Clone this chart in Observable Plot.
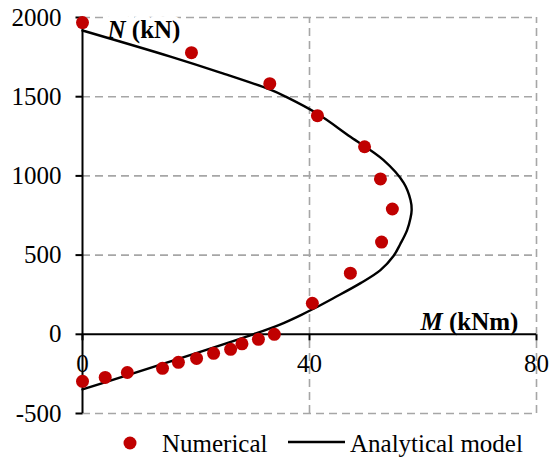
<!DOCTYPE html>
<html>
<head>
<meta charset="utf-8">
<script src="https://cdn.jsdelivr.net/npm/d3@7"></script>
<script src="https://cdn.jsdelivr.net/npm/@observablehq/plot@0.6"></script>
<style>
  html, body { margin: 0; padding: 0; background: #fff; }
  #chart svg { display: block; }
  #chart svg, #chart svg text { font-family: "Liberation Serif", "Times New Roman", Times, serif; }
</style>
</head>
<body>
<div id="chart"></div>
<script>
// ---- data ----
const xTicks = [0, 40, 80];
const yTicks = [-500, 0, 500, 1000, 1500, 2000];
const xLabel = "M (kNm)";
const yLabel = "N (kN)";
const seriesNames = ["Numerical", "Analytical model"];

// Numerical results (M in kNm, N in kN)
const numM = [0, 4.0, 7.9, 14.1, 16.9, 20.1, 23.1, 26.1, 28.1, 31.0, 33.8, 40.5, 47.2, 52.7, 54.6, 52.5, 49.7, 41.4, 33.0, 19.2, 0];
const numN = [-297, -272, -241, -215, -177, -152, -120, -95, -60, -32, 0, 196, 386, 582, 791, 981, 1184, 1380, 1582, 1778, 1968];

// Analytical model interaction curve
const anaM = [0, 30.1, 34.9, 38.4, 40.7, 44.2, 49.0, 52.5, 54.8, 56.0, 57.2, 57.8, 58.0, 57.8, 56.6, 53.0, 47.2, 41.4, 35.8, 33.1, 24.3, 15.5, 0];
const anaN = [-348, 0, 63, 120, 161, 228, 323, 405, 494, 570, 658, 734, 785, 848, 956, 1101, 1247, 1392, 1500, 1544, 1652, 1753, 1918];

const numerical = numM.map((m, i) => ({M: m, N: numN[i]}));
const analytical = anaM.map((m, i) => ({M: m, N: anaN[i]}));

const red = "#c00000";
const grid = "#a6a6a6";
const font = '"Liberation Serif", "Times New Roman", Times, serif';
const xDom = [xTicks[0], xTicks[xTicks.length - 1]];
const yDom = [yTicks[0], yTicks[yTicks.length - 1]];

const tickDown = {draw(ctx) { ctx.moveTo(0, 0); ctx.lineTo(0, 6); }};
const tickLeft = {draw(ctx) { ctx.moveTo(0, 0); ctx.lineTo(-7, 0); }};

const plot = Plot.plot({
  width: 549,
  height: 420,
  marginLeft: 82,
  marginRight: 13,
  marginTop: 17,
  marginBottom: 7,
  x: {domain: xDom, axis: null},
  y: {domain: yDom, axis: null},
  style: {fontFamily: font, fontSize: "25px", background: "#fff", color: "#000", overflow: "visible"},
  marks: [
    // dashed grid
    Plot.ruleY(yTicks.filter(d => d !== 0), {y: d => d, x1: xDom[0], x2: xDom[1], stroke: grid, strokeWidth: 1.6, strokeDasharray: "8,5"}),
    Plot.ruleX(xTicks.filter(d => d !== 0), {x: d => d, y1: yDom[0], y2: yDom[1], stroke: grid, strokeWidth: 1.6, strokeDasharray: "8,5"}),
    // axes lines
    Plot.ruleY([0], {x1: xDom[0], x2: xDom[1], stroke: "#000", strokeWidth: 2}),
    Plot.ruleX([0], {y1: yDom[0], y2: yDom[1], stroke: "#000", strokeWidth: 2}),
    // ticks
    Plot.dot(xTicks, {x: d => d, y: 0, symbol: tickDown, stroke: "#000", strokeWidth: 2, fill: "none"}),
    Plot.dot(yTicks, {x: xDom[0], y: d => d, symbol: tickLeft, stroke: "#000", strokeWidth: 2, fill: "none"}),
    // tick labels
    Plot.text(yTicks, {x: xDom[0], y: d => d, text: d => String(d), textAnchor: "end", dx: -21, fill: "#000", fontFamily: font}),
    Plot.text(xTicks, {x: d => d, y: 0, text: d => String(d), dy: 30, fill: "#000", fontFamily: font}),
    // axis titles
    Plot.text([yLabel], {frameAnchor: "top-left", dx: 25, dy: 3, textAnchor: "start", fontWeight: "bold", fontFamily: font, fill: "#000", stroke: "#fff", strokeWidth: 10, paintOrder: "stroke"}),
    Plot.text([xLabel], {frameAnchor: "top-left", dx: 338, dy: 295, textAnchor: "start", fontWeight: "bold", fontFamily: font, fill: "#000"}),
    // analytical curve
    Plot.line(analytical, {x: "M", y: "N", curve: "catmull-rom", stroke: "#000", strokeWidth: 2.4}),
    // numerical points
    Plot.dot(numerical, {x: "M", y: "N", r: 6.5, fill: red, stroke: "none"})
  ]
});

// italicize the variable letter in each axis title
d3.select(plot).selectAll("text").each(function() {
  const t = d3.select(this);
  const s = t.text();
  if (s === yLabel || s === xLabel) {
    const first = s.split(" ")[0];
    const rest = s.slice(first.length);
    t.text(null);
    t.append("tspan").attr("font-style", "italic").text(first);
    t.append("tspan").text(rest);
  }
});

document.getElementById("chart").appendChild(plot);

// legend below the chart
const leg = d3.select("#chart").append("svg")
  .attr("width", 549).attr("height", 38)
  .style("font-family", font)
  .style("font-size", "25px")
  .style("display", "block");
leg.append("circle").attr("cx", 130).attr("cy", 23).attr("r", 6.5).attr("fill", red);
leg.append("text").attr("x", 162).attr("y", 32).attr("fill", "#000").text(seriesNames[0]);
leg.append("line").attr("x1", 288).attr("x2", 345).attr("y1", 22).attr("y2", 22).attr("stroke", "#000").attr("stroke-width", 2.4);
leg.append("text").attr("x", 350).attr("y", 32).attr("fill", "#000").text(seriesNames[1]);
</script>
</body>
</html>
